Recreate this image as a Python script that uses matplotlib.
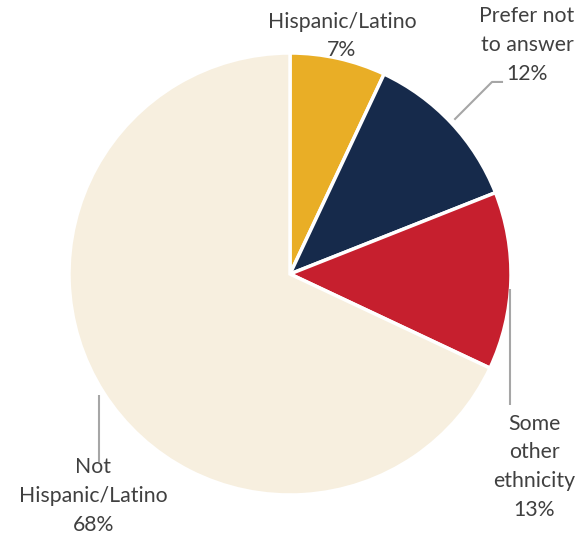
import numpy as np
import matplotlib
matplotlib.use("Agg")
import matplotlib.pyplot as plt

categories = ["Hispanic/Latino", "Prefer not\nto answer", "Some\nother\nethnicity", "Not\nHispanic/Latino"]
shares = [7, 12, 13, 68]
colors = ["#E9AE26", "#162A4B", "#C61F2E", "#F7EFDF"]

plt.rcParams["font.family"] = ["Lato", "DejaVu Sans"]

W, H = 587, 540
fig = plt.figure(figsize=(W / 100, H / 100), dpi=100)
cx, cy, R = 290, 274, 221
ax = fig.add_axes([(cx - R) / W, (H - cy - R) / H, 2 * R / W, 2 * R / H])

wedges, _ = ax.pie(shares, colors=colors, startangle=90, counterclock=False,
                   radius=1.0, wedgeprops=dict(edgecolor="white", linewidth=2.5))
ax.set_xlim(-1, 1)
ax.set_ylim(-1, 1)
ax.set_aspect("equal")
ax.axis("off")

text_color = "#404040"
line_color = "#A6A6A6"

# label centres and leader-line paths (after the wedge anchor), in data units
label_pos = [(0.235, 1.077), (1.072, 1.035), (1.104, -0.872), (-0.891, -1.005)]
leader_paths = [None,
                [(0.914, 0.869), (0.964, 0.869)],
                [(0.995, -0.593)],
                [(-0.864, -0.850)]]

for w, cat, val, pos, path in zip(wedges, categories, shares, label_pos, leader_paths):
    mid = np.deg2rad((w.theta1 + w.theta2) / 2)
    if path is not None:
        ax_r = 1.02
        start = (ax_r * np.cos(mid), ax_r * np.sin(mid))
        if cat.startswith("Some"):
            start = (path[0][0], ax_r * np.sin(mid) - 0.035)
        elif cat.startswith("Not"):
            start = (path[0][0], ax_r * np.sin(mid))
        pts = [start] + path
        xs, ys = zip(*pts)
        ax.plot(xs, ys, color=line_color, lw=1.5, clip_on=False, solid_capstyle="butt")
    ax.text(pos[0], pos[1], f"{cat}\n{val}%", ha="center", va="center",
            fontsize=15.3, color=text_color, linespacing=1.55, clip_on=False)

fig.savefig("out.png", dpi=100)
